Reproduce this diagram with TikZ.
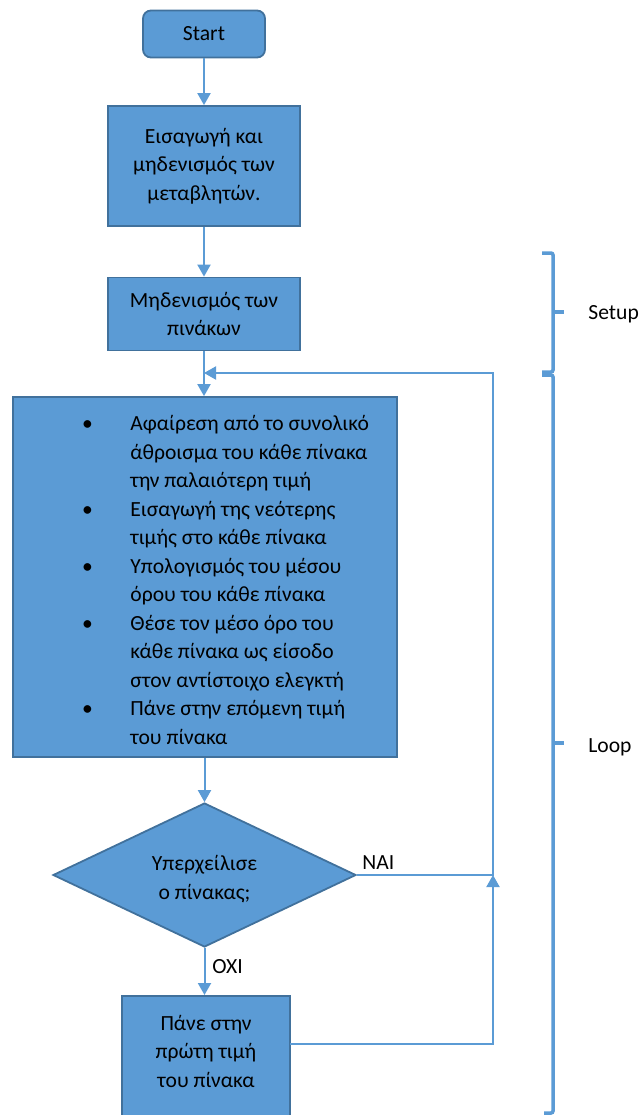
\documentclass[tikz,border=0pt]{standalone}
\usepackage{fontspec}
\setmainfont{Carlito}
\usetikzlibrary{shapes.geometric,arrows.meta}
\definecolor{boxfill}{HTML}{5B9BD5}
\definecolor{boxline}{HTML}{41719C}
\definecolor{conn}{HTML}{5B9BD5}
\newcommand{\bul}{\llap{\makebox[0pt][c]{•}\hspace{21.5pt}}}
\begin{document}
\begin{tikzpicture}[x=0.5pt,y=-0.5pt,
  every node/.style={font=\fontsize{10.8pt}{14.25pt}\selectfont},
  box/.style={draw=boxline, fill=boxfill, line width=0.9pt, inner sep=0pt, align=center},
  txt/.style={inner sep=0pt, align=center},
  flow/.style={draw=conn, line width=1pt, -{Triangle[width=6.5pt,length=6pt]}},
  brace/.style={draw=conn, line width=1.75pt, rounded corners=1pt},
  lbl/.style={anchor=west, inner sep=0pt}]
\useasboundingbox (0,0) rectangle (640,1115);
% nodes
\node[box, rounded corners=4pt, minimum width=61pt, minimum height=23.5pt] (start) at (204,34) {Start};
\node[box, minimum width=96pt, minimum height=60pt] (box2) at (204,166) {Εισαγωγή και\\μηδενισμός των\\μεταβλητών.};
\node[box, minimum width=96pt, minimum height=36.5pt] (box3) at (204,314) {Μηδενισμός των\\πινάκων};
\node[box, minimum width=192pt, minimum height=180pt] (proc) at (205,577) {};
\node[txt, anchor=west, align=left] (proctext) at (130,580) {\bul Αφαίρεση από το συνολικό\\
άθροισμα του κάθε πίνακα\\
την παλαιότερη τιμή\\
\bul Εισαγωγή της νεότερης\\
τιμής στο κάθε πίνακα\\
\bul Υπολογισμός του μέσου\\
όρου του κάθε πίνακα\\
\bul Θέσε τον μέσο όρο του\\
κάθε πίνακα ως είσοδο\\
στον αντίστοιχο ελεγκτή\\
\bul Πάνε στην επόμενη τιμή\\
του πίνακα};
\node[box, shape=diamond, minimum width=151.5pt, minimum height=72pt] (dec) at (204.5,875) {};
\node[txt] (dectext) at (204.5,879) {Υπερχείλισε\\ο πίνακας;};
\node[box, minimum width=84pt, minimum height=72pt, anchor=north] (last) at (206,995) {};
\node[txt] (lasttext) at (206,1051) {Πάνε στην\\πρώτη τιμή\\του πίνακα};
% coordinates
\coordinate (join) at (204,373);
\coordinate (rtop) at (493,373);
\coordinate (rmid) at (493,875);
\coordinate (lastout) at (290,1044);
\coordinate (rlow) at (493,1044);
% connectors
\draw[flow] (start.south) -- (start.south |- box2.north);
\draw[flow] (box2.south) -- (box3.north);
\draw[flow] (box3.south) -- (box3.south |- proc.north);
\draw[flow] (proc.south -| dec.north) -- (dec.north);
\draw[flow] (dec.east) -- (rmid) -- (rtop) -- (join);
\draw[flow] (dec.south) -- (dec.south |- last.north);
\draw[flow] (lastout) -- (rlow) -- (rmid);
% labels
\node[lbl] (yes) at (362,863) {ΝΑΙ};
\node[lbl] (no) at (212,967) {ΟΧΙ};
% braces
\draw[brace] (542,253) -- (553,253) -- (553,372) -- (542,372);
\draw[brace] (553,312) -- (564,312);
\draw[brace] (542,375) -- (553,375) -- (553,1113) -- (544,1113);
\draw[brace] (553,743) -- (564,743);
\node[lbl] (setup) at (588,314) {Setup};
\node[lbl] (loop) at (588,747) {Loop};
\end{tikzpicture}
\end{document}
